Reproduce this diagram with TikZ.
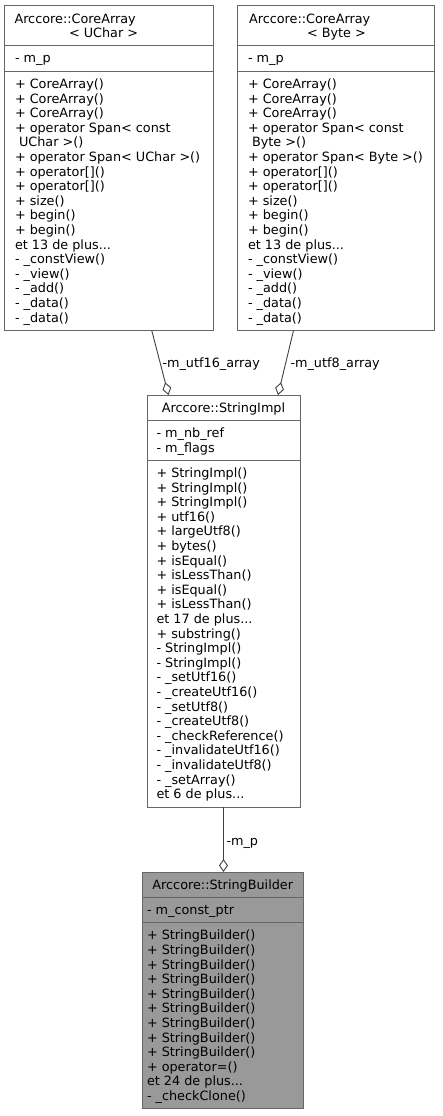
\documentclass[tikz,border=0pt]{standalone}
\usepackage{fontspec}
\setmainfont{DejaVu Sans}
\usetikzlibrary{arrows.meta}
\definecolor{boxline}{HTML}{666666}
\definecolor{edgeline}{HTML}{404040}
\definecolor{curfill}{HTML}{999999}
\newcommand\mydots{...}
\begin{document}
\begin{tikzpicture}[x=1pt,y=-1pt,
  font=\fontsize{12.8pt}{14.6pt}\selectfont,
  box/.style={draw=boxline, line width=1pt, fill=white, inner sep=0pt, outer sep=0pt, anchor=north west},
  curbox/.style={box, fill=curfill},
  sepline/.style={draw=boxline, line width=1pt},
  txt/.style={anchor=base west, inner sep=0pt, outer sep=0pt},
  ttl/.style={anchor=base, inner sep=0pt, outer sep=0pt},
  aggr/.style={draw=edgeline, line width=0.9pt, -{Diamond[open, length=13pt, width=9pt, line width=0.9pt]}},
  lbl/.style={anchor=base west, inner sep=0pt, outer sep=0pt}
]
\useasboundingbox (0,0) rectangle (442,1116);

% ---------- CoreArray< UChar >
\node[box, minimum width=208.5pt, minimum height=324.5pt] (A) at (4.5,6) {};
\draw[sepline] (A.west |- 0,46) -- (A.east |- 0,46);
\draw[sepline] (A.west |- 0,71.4) -- (A.east |- 0,71.4);
\node[txt] (At1) at (14.5,23.5) {Arccore::CoreArray};
\node[txt] (At2) at (69,37.6) {< UChar >};
\node[txt] (Aa1) at (15,62.5) {- m\_p};
\foreach \t [count=\i] in {{+ CoreArray()},{+ CoreArray()},{+ CoreArray()},
  {+ operator Span< const},{\ UChar >()},{+ operator Span< UChar >()},
  {+ operator[]()},{+ operator[]()},{+ size()},{+ begin()},{+ begin()},
  {et 13 de plus\mydots},{- \_constView()},{- \_view()},{- \_add()},{- \_data()},{- \_data()}}
  \node[txt] (Am\i) at (15,{88.4+(\i-1)*14.6}) {\t};

% ---------- CoreArray< Byte >
\node[box, minimum width=197pt, minimum height=324.5pt] (B) at (237,6) {};
\draw[sepline] (B.west |- 0,46) -- (B.east |- 0,46);
\draw[sepline] (B.west |- 0,71.4) -- (B.east |- 0,71.4);
\node[txt] (Bt1) at (249,23.5) {Arccore::CoreArray};
\node[txt] (Bt2) at (307,37.6) {< Byte >};
\node[txt] (Ba1) at (248,62.5) {- m\_p};
\foreach \t [count=\i] in {{+ CoreArray()},{+ CoreArray()},{+ CoreArray()},
  {+ operator Span< const},{\ Byte >()},{+ operator Span< Byte >()},
  {+ operator[]()},{+ operator[]()},{+ size()},{+ begin()},{+ begin()},
  {et 13 de plus\mydots},{- \_constView()},{- \_view()},{- \_add()},{- \_data()},{- \_data()}}
  \node[txt] (Bm\i) at (248,{88.4+(\i-1)*14.6}) {\t};

% ---------- StringImpl
\node[box, minimum width=153pt, minimum height=412.4pt] (I) at (147,395) {};
\draw[sepline] (I.west |- 0,420.4) -- (I.east |- 0,420.4);
\draw[sepline] (I.west |- 0,460.4) -- (I.east |- 0,460.4);
\node[ttl] (It) at (I.center |- 0,412.5) {Arccore::StringImpl};
\node[txt] (Ia1) at (156.5,437.4) {- m\_nb\_ref};
\node[txt] (Ia2) at (156.5,452) {- m\_flags};
\foreach \t [count=\i] in {{+ StringImpl()},{+ StringImpl()},{+ StringImpl()},
  {+ utf16()},{+ largeUtf8()},{+ bytes()},{+ isEqual()},{+ isLessThan()},
  {+ isEqual()},{+ isLessThan()},{et 17 de plus\mydots},{+ substring()},
  {- StringImpl()},{- StringImpl()},{- \_setUtf16()},{- \_createUtf16()},
  {- \_setUtf8()},{- \_createUtf8()},{- \_checkReference()},{- \_invalidateUtf16()},
  {- \_invalidateUtf8()},{- \_setArray()},{et 6 de plus\mydots}}
  \node[txt] (Im\i) at (156.5,{477.4+(\i-1)*14.6}) {\t};

% ---------- StringBuilder
\node[curbox, minimum width=161.5pt, minimum height=236.8pt] (S) at (142,872) {};
\draw[sepline] (S.west |- 0,897.4) -- (S.east |- 0,897.4);
\draw[sepline] (S.west |- 0,922.8) -- (S.east |- 0,922.8);
\node[ttl] (St) at (S.center |- 0,889.5) {Arccore::StringBuilder};
\node[txt] (Sa1) at (147,914.4) {- m\_const\_ptr};
\foreach \t [count=\i] in {{+ StringBuilder()},{+ StringBuilder()},{+ StringBuilder()},
  {+ StringBuilder()},{+ StringBuilder()},{+ StringBuilder()},{+ StringBuilder()},
  {+ StringBuilder()},{+ StringBuilder()},{+ operator=()},{et 24 de plus\mydots},
  {- \_checkClone()}}
  \node[txt] (Sm\i) at (147,{939.8+(\i-1)*14.6}) {\t};

% ---------- connectors
\draw[aggr] ([xshift=43pt]A.south) -- ([xshift=-55pt]I.north);
\draw[aggr] ([xshift=-42pt]B.south) -- ([xshift=54.5pt]I.north);
\draw[aggr] (I.south) -- (I.south |- S.north);
\node[lbl] (L1) at (162.5,367) {-m\_utf16\_array};
\node[lbl] (L2) at (290.5,367) {-m\_utf8\_array};
\node[lbl] (L3) at (226.5,845) {-m\_p};
\end{tikzpicture}
\end{document}
